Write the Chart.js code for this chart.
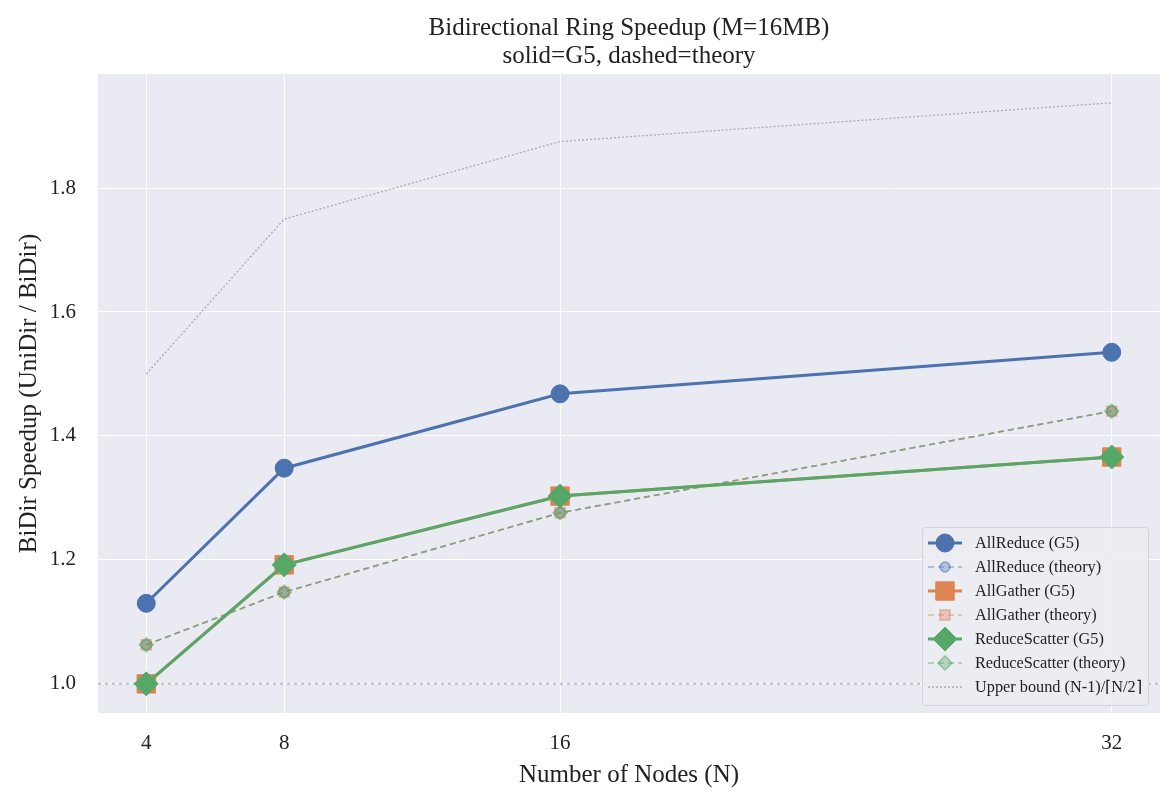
<!DOCTYPE html>
<html>
<head>
<meta charset="utf-8">
<script src="https://cdn.jsdelivr.net/npm/chart.js@4.4.0/dist/chart.umd.min.js"></script>
<style>
  body { margin: 0; background: #ffffff; }
</style>
</head>
<body>
<canvas id="ringChart" width="1176" height="802"></canvas>
<script>
/* Data */
const nodes = [4, 8, 16, 32];
const allReduceG5 = [1.130, 1.348, 1.468, 1.535];
const allReduceTheory = [1.063, 1.148, 1.276, 1.440];
const allGatherG5 = [1.000, 1.192, 1.303, 1.366];
const allGatherTheory = [1.063, 1.148, 1.276, 1.440];
const reduceScatterG5 = [1.000, 1.192, 1.303, 1.366];
const reduceScatterTheory = [1.063, 1.148, 1.276, 1.440];
const upperBound = [1.5, 1.75, 1.875, 1.9375];
const xTicks = [4, 8, 16, 32];
const yTicks = [1.0, 1.2, 1.4, 1.6, 1.8];
const baseline = 1.0;
const titleLines = ['Bidirectional Ring Speedup (M=16MB)', 'solid=G5, dashed=theory'];

const serif = "'Liberation Serif', 'Times New Roman', serif";
const blue = '76, 114, 176';
const orange = '221, 132, 82';
const green = '85, 168, 104';

function pts(ys) {
  return nodes.map((n, i) => ({ x: n, y: ys[i] }));
}

function g5(label, ys, rgb, style, radius) {
  return {
    label: label,
    data: pts(ys),
    borderColor: 'rgb(' + rgb + ')',
    backgroundColor: 'rgb(' + rgb + ')',
    borderWidth: 3,
    pointStyle: style,
    pointRadius: radius,
    pointBackgroundColor: 'rgb(' + rgb + ')',
    pointBorderColor: 'rgb(' + rgb + ')',
    pointBorderWidth: 1,
  };
}

function theory(label, ys, rgb, style, radius) {
  return {
    label: label,
    data: pts(ys),
    borderColor: 'rgba(' + rgb + ', 0.5)',
    backgroundColor: 'rgba(' + rgb + ', 0.35)',
    borderWidth: 1.6,
    borderDash: [6, 4],
    pointStyle: style,
    pointRadius: radius,
    pointBackgroundColor: 'rgba(' + rgb + ', 0.35)',
    pointBorderColor: 'rgba(' + rgb + ', 0.55)',
    pointBorderWidth: 1.5,
  };
}

let datasets = [
  g5('AllReduce (G5)', allReduceG5, blue, 'circle', 9),
  theory('AllReduce (theory)', allReduceTheory, blue, 'circle', 5),
  g5('AllGather (G5)', allGatherG5, orange, 'rect', 13),
  theory('AllGather (theory)', allGatherTheory, orange, 'rect', 7),
  g5('ReduceScatter (G5)', reduceScatterG5, green, 'rectRot', 12),
  theory('ReduceScatter (theory)', reduceScatterTheory, green, 'rectRot', 7),
  {
    label: 'Upper bound (N-1)/\u2308N/2\u2309',
    data: pts(upperBound),
    borderColor: 'rgba(160, 160, 160, 0.85)',
    backgroundColor: 'rgba(160, 160, 160, 0.85)',
    borderWidth: 1.3,
    borderDash: [2, 2],
    pointRadius: 0,
  },
];
// later datasets on top, like the original
datasets.forEach((d, i) => { d.order = 20 - i; d.tension = 0; d.fill = false; });

//-----------------------------------------------//
/* title, plot background, baseline and legend */
//-----------------------------------------------//
const decor = {
  id: 'decor',
  beforeDraw(chart) {
    const { ctx, chartArea: a } = chart;
    ctx.save();
    ctx.fillStyle = '#EAEAF2';
    ctx.fillRect(a.left, a.top, a.right - a.left, a.bottom - a.top);
    // title centred over the plot area
    ctx.fillStyle = '#222';
    ctx.font = '25px ' + serif;
    ctx.textAlign = 'center';
    ctx.textBaseline = 'alphabetic';
    const cx = (a.left + a.right) / 2;
    titleLines.forEach((t, i) => ctx.fillText(t, cx, 35 + i * 28));
    ctx.restore();
  },
  beforeDatasetsDraw(chart) {
    const { ctx, chartArea: a } = chart;
    const y = chart.scales.y.getPixelForValue(baseline);
    ctx.save();
    ctx.strokeStyle = 'rgba(170, 170, 170, 0.7)';
    ctx.lineWidth = 2;
    ctx.setLineDash([3, 4]);
    ctx.beginPath();
    ctx.moveTo(a.left, y);
    ctx.lineTo(a.right, y);
    ctx.stroke();
    ctx.restore();
  },
  afterDraw(chart) {
    const { ctx, chartArea: a } = chart;
    const right = a.right - 12;
    const bottom = a.bottom - 8;
    const w = 226, rowH = 24;
    const h = rowH * datasets.length + 10;
    const left = right - w, top = bottom - h;
    ctx.save();
    ctx.fillStyle = 'rgba(236, 236, 243, 0.9)';
    ctx.strokeStyle = '#d4d4d4';
    ctx.lineWidth = 1;
    ctx.beginPath();
    ctx.roundRect(left + 0.5, top + 0.5, w, h, 3);
    ctx.fill();
    ctx.stroke();
    ctx.font = '16.3px ' + serif;
    ctx.textBaseline = 'middle';
    datasets.forEach((d, i) => {
      const cy = top + 16 + i * rowH;
      ctx.save();
      ctx.strokeStyle = d.borderColor;
      ctx.lineWidth = d.borderWidth;
      ctx.setLineDash(d.borderDash || []);
      ctx.beginPath();
      ctx.moveTo(left + 6, cy);
      ctx.lineTo(left + 40, cy);
      ctx.stroke();
      ctx.setLineDash([]);
      if (d.pointRadius > 0) {
        ctx.fillStyle = d.pointBackgroundColor;
        ctx.strokeStyle = d.pointBorderColor;
        ctx.lineWidth = d.pointBorderWidth;
        Chart.helpers.drawPoint(ctx, {
          pointStyle: d.pointStyle,
          radius: d.pointRadius,
          rotation: 0,
          borderWidth: d.pointBorderWidth,
        }, left + 23, cy);
      }
      ctx.restore();
      ctx.fillStyle = '#222';
      ctx.fillText(d.label, left + 53, cy + 1);
    });
    ctx.restore();
  },
};

//-----------------------------------------------//
/* Line chart */
//-----------------------------------------------//
const ctx = document.getElementById('ringChart').getContext('2d');
const ringChart = new Chart(ctx, {
  type: 'line',
  data: { datasets: datasets },
  options: {
    responsive: false,
    animation: false,
    layout: { padding: { left: 0, right: 16, top: 74, bottom: 0 } },
    plugins: {
      legend: { display: false },
      tooltip: { enabled: false },
      title: { display: false },
    },
    scales: {
      x: {
        type: 'linear',
        min: 2.6,
        max: 33.4,
        afterBuildTicks: (axis) => { axis.ticks = xTicks.map(v => ({ value: v })); },
        afterFit: (axis) => { axis.height = 89; },
        grid: { color: '#ffffff', lineWidth: 1, drawTicks: false },
        border: { display: false },
        ticks: {
          color: '#222',
          padding: 18,
          font: { family: serif, size: 21 },
          callback: (v) => String(v),
        },
        title: {
          display: true,
          text: 'Number of Nodes (N)',
          color: '#222',
          font: { family: serif, size: 25 },
          padding: { top: 0, bottom: 12 },
        },
      },
      y: {
        type: 'linear',
        min: 0.953,
        max: 1.984,
        afterBuildTicks: (axis) => { axis.ticks = yTicks.map(v => ({ value: v })); },
        afterFit: (axis) => { axis.width = 98; },
        grid: { color: '#ffffff', lineWidth: 1, drawTicks: false },
        border: { display: false },
        ticks: {
          color: '#222',
          padding: 22,
          font: { family: serif, size: 21 },
          callback: (v) => v.toFixed(1),
        },
        title: {
          display: true,
          text: 'BiDir Speedup (UniDir / BiDir)',
          color: '#222',
          font: { family: serif, size: 25 },
          padding: { top: 14, bottom: 0 },
        },
      },
    },
  },
  plugins: [decor],
});
</script>
</body>
</html>
